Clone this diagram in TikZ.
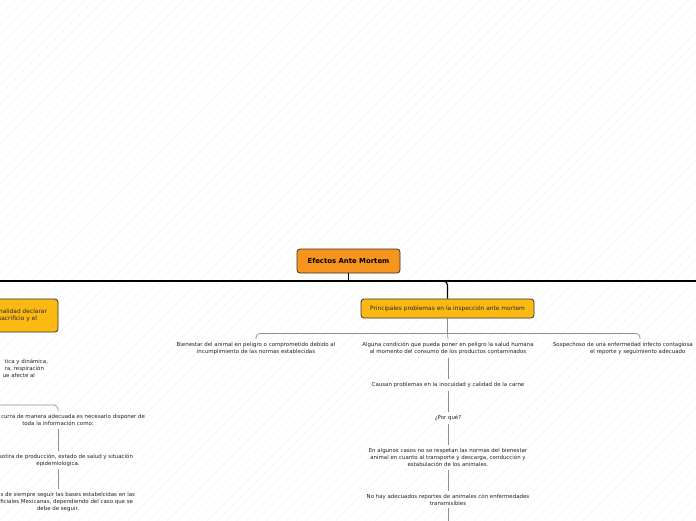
\documentclass[tikz,border=0pt]{standalone}
\usepackage{fontspec}
\setmainfont{DejaVu Sans}
\usetikzlibrary{patterns.meta}
\definecolor{rootorange}{HTML}{F7941D}
\definecolor{topicyellow}{HTML}{FDB913}
\definecolor{edgegray}{HTML}{8E8E8E}
\definecolor{textgray}{HTML}{222222}
\newcommand{\cutline}[2]{\makebox[#1][r]{#2}}
\newcommand{\cutright}[2]{\makebox[#1][l]{#2}}

\begin{document}
\begin{tikzpicture}[x=1pt,y=-1pt,
rootnode/.style={rectangle, align=center, rounded corners=3pt, draw=black!80, line width=0.8pt, fill=rootorange, font=\bfseries\fontsize{6.9}{8}\selectfont, minimum width=103pt, minimum height=24pt, inner sep=2pt},
topicnode/.style={rectangle, align=center, rounded corners=3pt, draw=black!80, line width=0.8pt, fill=topicyellow, text=black!85, font=\fontsize{5.9}{7}\selectfont, minimum height=19pt, inner sep=2pt},
leafnode/.style={align=center, text=textgray, font=\fontsize{5.45}{7}\selectfont, inner sep=3pt},
bus/.style={draw=black, line width=1.2pt},
link/.style={draw=edgegray, line width=0.7pt, rounded corners=4pt},
]
\useasboundingbox (0,0) rectangle (696,520);
\clip (0,0) rectangle (696,520);
\fill[white] (0,0) rectangle (696,520);
\fill[pattern={Lines[angle=45,distance=7pt,line width=0.3pt]}, pattern color=black!5] (0,0) rectangle (696,520);

%Nodes
\node[rootnode](Efectos) at (348.5,261){Efectos Ante Mortem};
\node[topicnode, minimum width=173pt](Principales) at (447.5,308.5){Principales problemas en la inspección ante mortem};
\node[topicnode, minimum width=136pt, minimum height=33pt](Finalidad) at (-10,315.5){\cutline{114pt}{nalidad declarar}\\\cutline{94pt}{sacrificio y el}};

\node[leafnode](Bienestar) at (256,348.5){Bienestar del animal en peligro o comprometido debido al\\incumplimiento de las normas establecidas};
\node[leafnode](Alguna) at (448,348.5){Alguna condición que pueda poner en peligro la salud humana\\al momento del consumo de los productos contaminados};
\node[leafnode](Sospechoso) at (640,348.5){\cutright{174pt}{Sospechoso de una enfermedad infecto contagiosa}\\\cutright{100pt}{el reporte y seguimiento adecuado}};

\node[leafnode](Causan) at (448,385){Causan problemas en la inocuidad y calidad de la carne};
\node[leafnode](PorQue) at (448,418){¿Por qué?};
\node[leafnode](Respetan) at (448,457.5){En algunos casos no se respetan las normas del bienestar\\animal en cuanto al transporte y descarga, conducción y\\estabulación de los animales.};
\node[leafnode](Reportes) at (448,499.5){No hay adecuados reportes de animales con enfermedades\\transmisibles};
\coordinate (ReportesNext) at (448,530);

\node[leafnode](Signos) at (0,368){\cutline{96pt}{tica y dinámica,}\\\cutline{88pt}{ra, respiración}\\\cutline{70pt}{ue afecte al}};
\node[leafnode](Informacion) at (58,420){\cutline{174pt}{curra de manera adecuada es necesario disponer de}\\toda la información como:};
\node[leafnode](Historia) at (58,460){\cutline{150pt}{nisotira de producción, estado de salud y situación}\\epidemiologica.};
\node[leafnode](Normas) at (58,502){\cutline{154pt}{s de siempre seguir las bases estabelcidas en las}\\\cutline{150pt}{Oficiales Mexicanas, dependiendo del caso que se}\\debe de seguir.};

\coordinate (BusWest) at (0,281);
\coordinate (BusEast) at (696,281);
\coordinate (LeftIn) at (0,405);

%Lines
\draw[bus] (BusWest) -- (BusEast);
\draw[bus] (Efectos.south) -- (Efectos.south |- BusWest);
\draw[bus, rounded corners=4pt] (Efectos.south |- BusWest) -| (Principales.north);
\draw[bus, rounded corners=4pt] (Efectos.south |- BusWest) -| (Finalidad.north);

\draw[link] (Principales.south) -- ++(0,15) coordinate (Hub);
\draw[link] (Hub) -| (Bienestar.north);
\draw[link] (Hub) -| (Sospechoso.north);
\draw[link] (Hub) -- (Alguna.north);

\draw[link] (Alguna) -- (Causan);
\draw[link] (Causan) -- (PorQue);
\draw[link] (PorQue) -- (Respetan);
\draw[link] (Respetan) -- (Reportes);
\draw[link] (Reportes) -- (ReportesNext);

\draw[link] (LeftIn) -| (Informacion.north);
\draw[link] (Informacion) -- (Historia);
\draw[link] (Historia) -- (Normas);
\end{tikzpicture}
\end{document}
